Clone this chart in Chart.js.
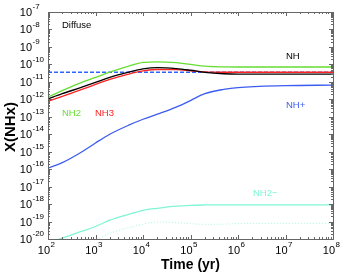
<!DOCTYPE html>
<html>
<head>
<meta charset="utf-8">
<script src="https://cdn.jsdelivr.net/npm/chart.js@4.4.1/dist/chart.umd.min.js"></script>
<style>
  html, body { margin: 0; padding: 0; background: #fff; }
  #wrap { width: 344px; height: 272px; }
</style>
</head>
<body>
<div id="wrap"><canvas id="nhxChart" width="344" height="272"></canvas></div>
<script>
// Time grid (yr) shared by all curves
const timeYr = [1e2, 2e2, 5e2, 1e3, 2e3, 5e3, 1e4, 2e4, 5e4, 1e5, 2e5, 5e5, 1e6, 1e7, 1e8];

// abundances
const nh2 = [1.35e-12, 3.16e-12, 9.1e-12, 1.78e-11, 3.55e-11, 7.9e-11, 1.29e-10, 1.41e-10, 1.26e-10, 1.0e-10, 7.9e-11, 7.2e-11, 7.1e-11, 7.1e-11, 7.1e-11];
const nh = [1.05e-12, 2.1e-12, 4.8e-12, 9.3e-12, 1.82e-11, 3.6e-11, 5.5e-11, 6.5e-11, 5.75e-11, 4.6e-11, 3.5e-11, 2.9e-11, 2.75e-11, 2.75e-11, 2.75e-11];
const nh3 = [7.6e-13, 1.48e-12, 3.55e-12, 7.1e-12, 1.38e-11, 2.8e-11, 4.2e-11, 5.1e-11, 5.0e-11, 4.3e-11, 3.7e-11, 3.55e-11, 3.55e-11, 3.55e-11, 3.55e-11];
const nhPlus = [1.15e-16, 2.35e-16, 9.3e-16, 3.16e-15, 1.0e-14, 3.3e-14, 7.2e-14, 1.41e-13, 3.6e-13, 8.5e-13, 2.1e-12, 3.7e-12, 4.7e-12, 6.0e-12, 6.5e-12];
const nh2Minus = [5.9e-21, 1.12e-20, 2.7e-20, 5.2e-20, 1.2e-19, 2.6e-19, 4.4e-19, 5.75e-19, 7.6e-19, 8.5e-19, 8.9e-19, 9.1e-19, 9.1e-19, 9.1e-19, 9.1e-19];
const nh2MinusDotted = [1.26e-21, 2.5e-21, 5.0e-21, 8.9e-21, 2.1e-20, 4.5e-20, 7.1e-20, 9.5e-20, 8.7e-20, 7.6e-20, 6.9e-20, 7.1e-20, 7.6e-20, 7.9e-20, 7.9e-20];

// observed value (dashed line)
const obsTime = [1e2, 1e8];
const obsValue = [3.6e-11, 3.6e-11];

// axis decades
const xDecades = [2, 3, 4, 5, 6, 7, 8];
const yDecades = [-20, -19, -18, -17, -16, -15, -14, -13, -12, -11, -10, -9, -8, -7];

function pts(xs, ys) {
    return xs.map((x, i) => ({ x: x, y: ys[i] }));
}

const FONT = '"Liberation Sans", Arial, Helvetica, sans-serif';

// frame, inward ticks, superscript tick labels, titles and curve labels
const decorPlugin = {
    id: 'decor',
    afterDraw(chart) {
        const ctx = chart.ctx;
        const a = chart.chartArea;
        const xs = chart.scales.x, ys = chart.scales.y;
        ctx.save();
        ctx.strokeStyle = '#666';
        ctx.lineWidth = 1;
        ctx.strokeRect(a.left + 0.5, a.top + 0.5, a.right - a.left, a.bottom - a.top);

        ctx.beginPath();
        // x ticks (bottom + top)
        for (let d = xDecades[0]; d <= xDecades[xDecades.length - 1]; d++) {
            for (let m = 1; m <= 9; m++) {
                if (d === xDecades[xDecades.length - 1] && m > 1) break;
                const px = Math.round(xs.getPixelForValue(m * Math.pow(10, d))) + 0.5;
                const len = m === 1 ? 4 : 2;
                ctx.moveTo(px, a.bottom); ctx.lineTo(px, a.bottom - len);
                ctx.moveTo(px, a.top); ctx.lineTo(px, a.top + len);
            }
        }
        // y ticks (left + right)
        for (let d = yDecades[0]; d <= yDecades[yDecades.length - 1]; d++) {
            for (let m = 1; m <= 9; m++) {
                if (d === yDecades[yDecades.length - 1] && m > 1) break;
                const py = Math.round(ys.getPixelForValue(m * Math.pow(10, d))) + 0.5;
                const len = m === 1 ? 4 : 2;
                ctx.moveTo(a.left, py); ctx.lineTo(a.left + len, py);
                ctx.moveTo(a.right, py); ctx.lineTo(a.right - len, py);
            }
        }
        ctx.stroke();

        // tick labels
        ctx.fillStyle = '#000';
        ctx.textBaseline = 'middle';
        yDecades.forEach(d => {
            const py = ys.getPixelForValue(Math.pow(10, d));
            ctx.font = '11px ' + FONT;
            ctx.textAlign = 'right';
            ctx.fillText('10', 32, py + 1);
            ctx.font = '8px ' + FONT;
            ctx.textAlign = 'left';
            ctx.fillText('-' + Math.abs(d), 32.5, py - 5);
        });
        xDecades.forEach(d => {
            const px = xs.getPixelForValue(Math.pow(10, d));
            ctx.font = '11px ' + FONT;
            ctx.textAlign = 'right';
            ctx.fillText('10', px + 2, 251);
            ctx.font = '8px ' + FONT;
            ctx.textAlign = 'left';
            ctx.fillText(String(d), px + 2.5, 245);
        });

        // axis titles
        ctx.font = 'bold 14px ' + FONT;
        ctx.textAlign = 'center';
        ctx.textBaseline = 'alphabetic';
        ctx.fillText('Time (yr)', (a.left + a.right) / 2, 269);
        ctx.save();
        ctx.font = 'bold 15px ' + FONT;
        ctx.translate(15, 127);
        ctx.rotate(-Math.PI / 2);
        ctx.fillText('X(NHx)', 0, 0);
        ctx.restore();

        // in-plot labels
        ctx.textAlign = 'left';
        ctx.textBaseline = 'middle';
        ctx.font = '9.5px ' + FONT;
        ctx.fillStyle = '#000';
        ctx.fillText('Diffuse', 62, 25);
        ctx.fillStyle = '#66dd33';
        ctx.fillText('NH2', 62, 113);
        ctx.fillStyle = '#ff2222';
        ctx.fillText('NH3', 95, 113);
        ctx.fillStyle = '#000';
        ctx.fillText('NH', 286, 56);
        ctx.fillStyle = '#3b5cf0';
        ctx.fillText('NH+', 286, 105);
        ctx.fillStyle = '#80f5d5';
        ctx.fillText('NH2\u2212', 253, 193);
        ctx.restore();
    }
};

const ctx = document.getElementById('nhxChart').getContext('2d');
const nhxChart = new Chart(ctx, {
    type: 'line',
    data: {
        datasets: [
            { label: 'NH2-dotted', data: pts(timeYr, nh2MinusDotted), borderColor: '#a8f5dc', borderWidth: 1, borderDash: [1, 2] },
            { label: 'NH2-', data: pts(timeYr, nh2Minus), borderColor: '#80f5d5', borderWidth: 1.3 },
            { label: 'NH+', data: pts(timeYr, nhPlus), borderColor: '#3b5cf0', borderWidth: 1.3 },
            { label: 'NH2', data: pts(timeYr, nh2), borderColor: '#66dd33', borderWidth: 1.3 },
            { label: 'NH', data: pts(timeYr, nh), borderColor: '#000000', borderWidth: 1.4 },
            { label: 'NH3', data: pts(timeYr, nh3), borderColor: '#ff2222', borderWidth: 1.3 },
            { label: 'observed', data: pts(obsTime, obsValue), borderColor: '#2a66ff', borderWidth: 1.5, borderDash: [4, 2], tension: 0 }
        ]
    },
    options: {
        responsive: false,
        animation: false,
        events: [],
        layout: { padding: { top: 12, right: 11, left: 0, bottom: 0 } },
        elements: {
            point: { radius: 0 },
            line: { tension: 0.4, cubicInterpolationMode: 'monotone', fill: false }
        },
        plugins: {
            legend: { display: false },
            tooltip: { enabled: false }
        },
        scales: {
            x: {
                type: 'logarithmic',
                min: 1e2, max: 1e8,
                grid: { display: false },
                border: { display: false },
                ticks: { display: false },
                afterFit: function(scale) { scale.height = 33; }
            },
            y: {
                type: 'logarithmic',
                min: 1e-20, max: 1e-7,
                grid: { display: false },
                border: { display: false },
                ticks: { display: false },
                afterFit: function(scale) { scale.width = 48; }
            }
        }
    },
    plugins: [decorPlugin]
});
</script>
</body>
</html>
